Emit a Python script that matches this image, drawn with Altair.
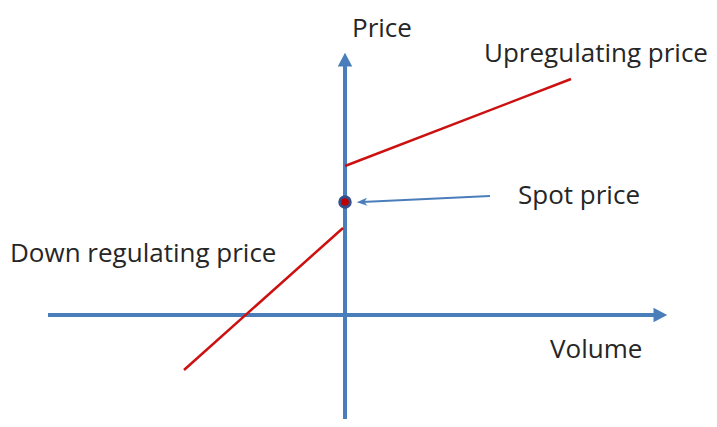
import altair as alt
import pandas as pd

# Diagram coordinates (x to the right, y downward as in the picture)
axis_names = ["volume_axis", "price_axis"]
axis_x1 = [48, 345]
axis_y1 = [315, 427]
axis_x2 = [656, 345]
axis_y2 = [315, 62]

tip_names = ["volume_tip", "price_tip"]
tip_x = [660, 345]
tip_y = [315, 60]
tip_angle = [90, 0]

curve_names = ["Upregulating price", "Down regulating price"]
curve_x1 = [345, 184]
curve_y1 = [166, 370]
curve_x2 = [571, 343]
curve_y2 = [79, 228]

spot_x = [345]
spot_y = [202]

pointer_x1 = [490]
pointer_y1 = [196]
pointer_x2 = [362]
pointer_y2 = [202]

label_text = ["Price", "Upregulating price", "Spot price", "Down regulating price", "Volume"]
label_x = [352, 484, 518, 10, 550]
label_y = [37, 62, 204, 262, 358]

BLUE = "#4a7ebb"
RED = "#cc1111"
TEXT = "#262626"

xs = alt.Scale(domain=[8, 709], nice=False, zero=False)
ys = alt.Scale(domain=[8, 419], nice=False, zero=False, reverse=True)
X = lambda f: alt.X(f, type="quantitative", scale=xs, axis=None)
Y = lambda f: alt.Y(f, type="quantitative", scale=ys, axis=None)

axes_df = pd.DataFrame({"name": axis_names, "x": axis_x1, "y": axis_y1, "x2": axis_x2, "y2": axis_y2})
tips_df = pd.DataFrame({"name": tip_names, "x": tip_x, "y": tip_y, "angle": tip_angle})
curves_df = pd.DataFrame({"name": curve_names, "x": curve_x1, "y": curve_y1, "x2": curve_x2, "y2": curve_y2})
spot_df = pd.DataFrame({"x": spot_x, "y": spot_y})
pointer_df = pd.DataFrame({"x": pointer_x1, "y": pointer_y1, "x2": pointer_x2, "y2": pointer_y2})
labels_df = pd.DataFrame({"text": label_text, "x": label_x, "y": label_y})

axes_layer = alt.Chart(axes_df).mark_rule(color=BLUE, strokeWidth=4).encode(
    x=X("x"), y=Y("y"), x2="x2", y2="y2")

tips_layer = alt.Chart(tips_df).mark_point(
    shape="M0,-1L1,0.9L-1,0.9Z", size=210, filled=True, color=BLUE, opacity=1
).encode(x=X("x"), y=Y("y"), angle=alt.Angle("angle:Q", scale=None))

curves_layer = alt.Chart(curves_df).mark_rule(color=RED, strokeWidth=2.5).encode(
    x=X("x"), y=Y("y"), x2="x2", y2="y2")

pointer_layer = alt.Chart(pointer_df).mark_rule(color=BLUE, strokeWidth=1.8).encode(
    x=X("x"), y=Y("y"), x2="x2", y2="y2")

pointer_head = alt.Chart(pointer_df).mark_point(
    shape="M-1,0L1,-0.75L0.45,0L1,0.75Z", size=110, filled=True, color=BLUE, opacity=1, angle=357
).encode(x=X("x2"), y=Y("y2"))

spot_layer = alt.Chart(spot_df).mark_point(
    shape="circle", size=110, filled=True, fill="#c00000", stroke="#34508a", strokeWidth=3, opacity=1
).encode(x=X("x"), y=Y("y"))

labels_layer = alt.Chart(labels_df).mark_text(
    align="left", baseline="alphabetic", font="Open Sans", fontSize=26, color=TEXT
).encode(x=X("x"), y=Y("y"), text="text:N")

chart = alt.layer(
    axes_layer, tips_layer, curves_layer, pointer_layer, pointer_head, spot_layer, labels_layer
).properties(
    width=701, height=411, padding=0, autosize=alt.AutoSizeParams(type="none")
).configure(background="white").configure_view(strokeWidth=0)

chart.save("out.html", embed_options={"renderer": "svg", "actions": False})
